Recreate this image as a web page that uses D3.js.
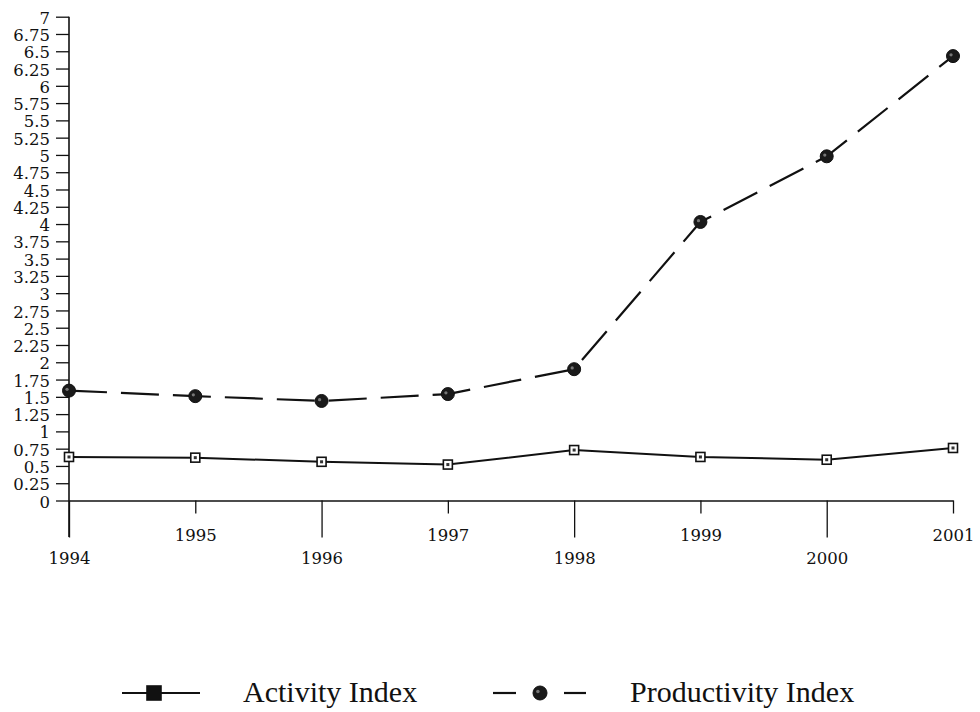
<!DOCTYPE html>
<html>
<head>
<meta charset="utf-8">
<script src="https://cdn.jsdelivr.net/npm/d3@7"></script>
<style>
  html, body { margin: 0; padding: 0; background: #fff; }
  svg { display: block; }
</style>
</head>
<body>
<svg id="chart" width="980" height="712"></svg>
<script>
const years = [1994, 1995, 1996, 1997, 1998, 1999, 2000, 2001];
const activityIndex = [0.63, 0.62, 0.56, 0.52, 0.73, 0.63, 0.59, 0.76];
const productivityIndex = [1.59, 1.51, 1.44, 1.54, 1.90, 4.03, 4.98, 6.43];
const yTickValues = [0, 0.25, 0.5, 0.75, 1, 1.25, 1.5, 1.75, 2, 2.25, 2.5, 2.75, 3, 3.25, 3.5, 3.75, 4, 4.25, 4.5, 4.75, 5, 5.25, 5.5, 5.75, 6, 6.25, 6.5, 6.75, 7];
const seriesNames = ["Activity Index", "Productivity Index"];

const svg = d3.select("#chart");
const tickFont = "'DejaVu Serif', serif";
const legendFont = "'Liberation Serif', 'Times New Roman', serif";

const x = d3.scaleLinear().domain([1994, 2001]).range([69, 953]);
const y = d3.scaleLinear().domain([0, 7]).range([500.5, 16.7]);

// Y axis
const yAxis = d3.axisLeft(y)
  .tickValues(yTickValues)
  .tickSize(13)
  .tickPadding(6)
  .tickFormat(d => String(d));
const gy = svg.append("g").attr("transform", "translate(69,0)").call(yAxis);
gy.select(".domain").remove();
gy.selectAll(".tick line").attr("stroke", "#111").attr("stroke-width", 1.3);
gy.selectAll(".tick text")
  .attr("font-family", tickFont)
  .attr("font-size", 16.5)
  .attr("fill", "#111")
  .attr("dy", "0.4em");
svg.append("line")
  .attr("x1", 69).attr("x2", 69)
  .attr("y1", y(7)).attr("y2", 537)
  .attr("stroke", "#111").attr("stroke-width", 1.6);

// X axis
const xAxis = d3.axisBottom(x)
  .tickValues(years)
  .tickSize(0)
  .tickFormat(d => String(d));
const gx = svg.append("g").attr("transform", `translate(0,${y(0)})`).call(xAxis);
gx.select(".domain").attr("stroke", "#111").attr("stroke-width", 1.6);
gx.selectAll(".tick line")
  .attr("stroke", "#111").attr("stroke-width", 1.3)
  .attr("y2", (d, i) => i % 2 === 0 ? 37 : 13);
gx.selectAll(".tick text")
  .attr("font-family", tickFont)
  .attr("font-size", 16.5)
  .attr("fill", "#111")
  .attr("dy", 0)
  .attr("y", (d, i) => i % 2 === 0 ? 63 : 40);

// Lines
const lineGen = d3.line().x((d, i) => x(years[i])).y(d => y(d));

svg.append("path")
  .datum(activityIndex)
  .attr("d", lineGen)
  .attr("fill", "none")
  .attr("stroke", "#111")
  .attr("stroke-width", 2);

svg.append("path")
  .datum(productivityIndex)
  .attr("d", lineGen)
  .attr("fill", "none")
  .attr("stroke", "#111")
  .attr("stroke-width", 2.2)
  .attr("stroke-dasharray", "38,14");

// Markers
function squareMarker(g, cx, cy, s, filled) {
  g.append("rect")
    .attr("x", cx - s / 2).attr("y", cy - s / 2)
    .attr("width", s).attr("height", s)
    .attr("fill", filled ? "#111" : "#fff")
    .attr("stroke", "#111").attr("stroke-width", 1.6);
  if (!filled) {
    g.append("rect")
      .attr("x", cx - 1.5).attr("y", cy - 1.5)
      .attr("width", 3).attr("height", 3)
      .attr("fill", "#333");
  }
}
function circleMarker(g, cx, cy, r) {
  g.append("circle")
    .attr("cx", cx).attr("cy", cy).attr("r", r)
    .attr("fill", "#1a1a1a")
    .attr("stroke", "#111").attr("stroke-width", 1);
  g.append("circle")
    .attr("cx", cx - r * 0.3).attr("cy", cy - r * 0.2).attr("r", r * 0.25)
    .attr("fill", "#777");
}

const mA = svg.append("g");
activityIndex.forEach((v, i) => squareMarker(mA, x(years[i]), y(v), 9, false));
const mP = svg.append("g");
productivityIndex.forEach((v, i) => circleMarker(mP, x(years[i]), y(v), 6.5));

// Legend
const legY = 693;
const lg = svg.append("g");
lg.append("line").attr("x1", 122).attr("x2", 200).attr("y1", legY).attr("y2", legY)
  .attr("stroke", "#111").attr("stroke-width", 2);
squareMarker(lg, 154, legY, 14, true);
lg.append("text").attr("x", 243).attr("y", legY + 9)
  .attr("font-family", legendFont).attr("font-size", 30).attr("fill", "#111")
  .text(seriesNames[0]);

lg.append("line").attr("x1", 493).attr("x2", 516).attr("y1", legY).attr("y2", legY)
  .attr("stroke", "#111").attr("stroke-width", 2.2);
lg.append("line").attr("x1", 564).attr("x2", 586).attr("y1", legY).attr("y2", legY)
  .attr("stroke", "#111").attr("stroke-width", 2.2);
circleMarker(lg, 540, legY, 7);
lg.append("text").attr("x", 630).attr("y", legY + 9)
  .attr("font-family", legendFont).attr("font-size", 30).attr("fill", "#111")
  .text(seriesNames[1]);
</script>
</body>
</html>
